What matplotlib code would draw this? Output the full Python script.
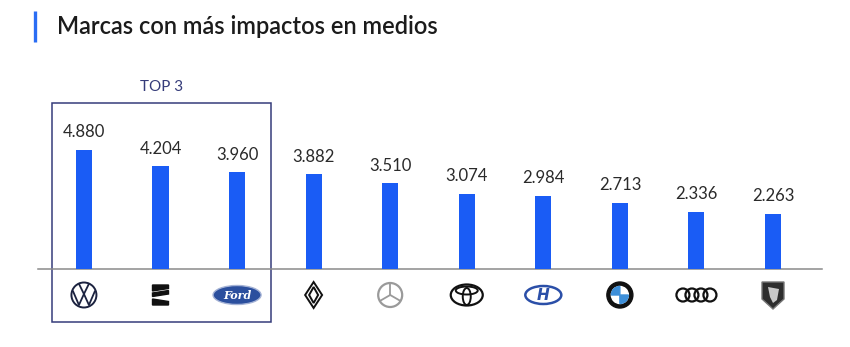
import numpy as np
import matplotlib.pyplot as plt
from matplotlib.patches import Circle, Ellipse, Polygon, Rectangle, Wedge

plt.switch_backend('Agg')

# data
brands = ['Volkswagen', 'SEAT', 'Ford', 'Renault', 'Mercedes', 'Toyota',
          'Hyundai', 'BMW', 'Audi', 'Peugeot']
impacts = [4880, 4204, 3960, 3882, 3510, 3074, 2984, 2713, 2336, 2263]
value_labels = ['4.880', '4.204', '3.960', '3.882', '3.510', '3.074',
                '2.984', '2.713', '2.336', '2.263']
title = 'Marcas con más impactos en medios'
top_label = 'TOP 3'
top_n = 3

BLUE = '#1a5cf5'
NAVY = '#353c7a'

plt.rcParams['font.family'] = ['Lato', 'DejaVu Sans']

W, H = 850, 347
fig = plt.figure(figsize=(W / 100, H / 100), dpi=100, facecolor='white')

# overlay in pixel units (y down) for title, box and logos
ov = fig.add_axes([0, 0, 1, 1])
ov.set_xlim(0, W)
ov.set_ylim(H, 0)
ov.axis('off')

ax = fig.add_axes([38 / W, 78 / H, 784 / W, 172 / H])
ax.set_facecolor('none')
x = np.arange(len(brands))
ax.bar(x, impacts, width=0.21, color=BLUE, zorder=3)
ax.set_xlim(-0.6, 9.64)
ax.set_ylim(0, 7050)
for s in ['top', 'right', 'left']:
    ax.spines[s].set_visible(False)
ax.spines['bottom'].set_color('#8a8a8a')
ax.spines['bottom'].set_linewidth(1.1)
ax.set_xticks([])
ax.set_yticks([])
for xi, v, lab in zip(x, impacts, value_labels):
    ax.annotate(lab, (xi, v), xytext=(0, 7), textcoords='offset points',
                ha='center', va='bottom', fontsize=12, color='#2a2a2a')

# title
ov.plot([35, 35], [11, 42], color='#2a6df4', lw=2.4, solid_capstyle='butt')
ov.text(57, 26, title, fontsize=17, fontweight='semibold', color='#1b1b1b',
        va='center', ha='left')

# logo centres follow the bars
disp = ax.transData.transform(np.column_stack([x, np.zeros(len(x))]))
cx = ov.transData.inverted().transform(disp)[:, 0]
cy = 295


def logo(name, px, py):
    k = dict(fill=False, lw=1.4)
    if name == 'Volkswagen':
        ov.add_patch(Circle((px, py), 12.5, ec='#1c2340', **k))
        ov.plot(px + np.array([-5, 0, 5]), py + np.array([-11.2, -1, -11.2]), color='#1c2340', lw=1.3)
        ov.plot(px + np.array([-10.8, -5, 0, 5, 10.8]), py + np.array([-3.5, 10, -1, 10, -3.5]),
                color='#1c2340', lw=1.3)
    elif name == 'SEAT':
        ov.add_patch(Polygon([(px - 8, py - 10), (px + 8, py - 10), (px + 8, py - 6.5), (px - 8, py - 4)], color='#111'))
        ov.add_patch(Polygon([(px - 8, py - 2), (px + 8, py - 4.5), (px + 8, py - 1), (px - 8, py + 1.5)], color='#111'))
        ov.add_patch(Polygon([(px - 8, py + 4), (px + 8, py + 6.5), (px + 8, py + 10), (px - 8, py + 10)], color='#111'))
    elif name == 'Ford':
        ov.add_patch(Ellipse((px, py), 48, 19, fc='#2b4f9e', ec='#a5b3d6', lw=1))
        ov.text(px, py + 0.5, 'Ford', color='white', fontsize=8, fontstyle='italic',
                fontweight='bold', family='DejaVu Serif', ha='center', va='center')
    elif name == 'Renault':
        ov.add_patch(Polygon([(px, py - 13), (px + 8.5, py), (px, py + 13), (px - 8.5, py)], ec='#111', **k))
        ov.add_patch(Polygon([(px, py - 8), (px + 4.5, py), (px, py + 8), (px - 4.5, py)], ec='#111', **k))
    elif name == 'Mercedes':
        ov.add_patch(Circle((px, py), 12, ec='#9a9a9a', fill=False, lw=1.6))
        for a in [-90, 30, 150]:
            r = np.deg2rad(a)
            ov.plot([px, px + 11 * np.cos(r)], [py, py + 11 * np.sin(r)], color='#9a9a9a', lw=1.3)
    elif name == 'Toyota':
        ov.add_patch(Ellipse((px, py), 32, 21, ec='#111', fill=False, lw=1.6))
        ov.add_patch(Ellipse((px, py - 4.5), 22, 8, ec='#111', fill=False, lw=1.4))
        ov.add_patch(Ellipse((px, py + 1.5), 8, 17, ec='#111', fill=False, lw=1.4))
    elif name == 'Hyundai':
        ov.add_patch(Ellipse((px, py), 36, 18, ec='#2b4fa8', fill=False, lw=1.8))
        ov.text(px, py + 0.5, 'H', color='#2b4fa8', fontsize=11, fontstyle='italic',
                fontweight='bold', family='DejaVu Sans', ha='center', va='center')
    elif name == 'BMW':
        ov.add_patch(Circle((px, py), 13, color='#111'))
        ov.add_patch(Circle((px, py), 8.5, color='white'))
        ov.add_patch(Wedge((px, py), 8.5, 180, 270, color='#3d8fd9'))
        ov.add_patch(Wedge((px, py), 8.5, 0, 90, color='#3d8fd9'))
    elif name == 'Audi':
        for dx in [-13.5, -4.5, 4.5, 13.5]:
            ov.add_patch(Circle((px + dx, py), 6.5, ec='#111', fill=False, lw=1.6))
    elif name == 'Peugeot':
        ov.add_patch(Polygon([(px - 11, py - 13), (px + 11, py - 13), (px + 11, py + 4),
                              (px, py + 14), (px - 11, py + 4)], fc='#2e2e2e', ec='#777', lw=1))
        ov.add_patch(Polygon([(px - 5, py - 8), (px + 6, py - 6), (px + 4, py + 5),
                              (px, py + 8), (px - 3, py + 2)], fc='#c9c9c9', ec='none'))


for b, px in zip(brands, cx):
    logo(b, px, cy)

# TOP 3 frame
left, right = cx[0] - 32, cx[top_n - 1] + 34
ov.add_patch(Rectangle((left, 103), right - left, 219, fill=False, ec=NAVY, lw=1.1))
ov.text((left + right) / 2, 87, top_label, color=NAVY, fontsize=11, ha='center', va='center')

fig.savefig('out.png', dpi=100, facecolor='white')
